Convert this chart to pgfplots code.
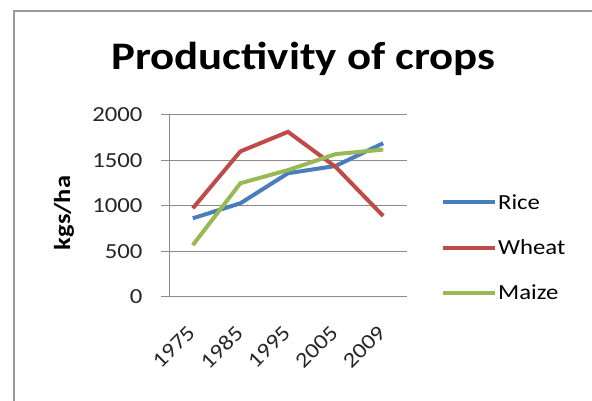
\documentclass[border=0pt]{standalone}
\usepackage{pgfplots}
\pgfplotsset{compat=1.18}
\usepackage{fontspec}
\setmainfont{Carlito}[FakeStretch=1.15]

\definecolor{riceblue}{HTML}{4A7EBB}
\definecolor{wheatred}{HTML}{BE4B48}
\definecolor{maizegreen}{HTML}{98B954}
\definecolor{gridgray}{HTML}{8C8C8C}

\begin{document}
\begin{tikzpicture}[x=1pt,y=1pt]
  \useasboundingbox (0,0) rectangle (592,401);
  % chart frame (only left and top edges show)
  \draw[gray!80, line width=2pt] (14,0) -- (14,390) -- (592,390);
  \node[anchor=base, font=\bfseries\fontsize{39}{44}\selectfont]
    at (303.5,331) {Productivity of crops};
  \node[rotate=90, font=\bfseries\fontsize{23}{26}\selectfont]
    at (64,188) {kgs/ha};

  \begin{axis}[
    at={(169pt,104pt)}, anchor=south west,
    scale only axis, width=238pt, height=182pt,
    xmin=-0.5, xmax=4.5, ymin=0, ymax=2000,
    axis x line*=bottom, axis y line*=left,
    axis line style={gridgray, line width=1pt},
    xtick={0,1,2,3,4},
    xticklabels={1975,1985,1995,2005,2009},
    xtick style={draw=none},
    minor xtick={-0.5,0.5,1.5,2.5,3.5,4.5},
    minor tick style={gridgray, line width=1pt},
    ytick={0,500,1000,1500,2000},
    ytick style={gridgray, line width=1pt},
    ymajorgrids, grid style={gridgray, line width=1pt},
    tick align=outside,
    major tick length=8pt, minor tick length=8pt,
    tick label style={font=\fontsize{21.5}{24}\selectfont, text=black!85},
    /pgf/number format/assume math mode=true,
    /pgf/number format/set thousands separator={},
    yticklabel style={xshift=-15pt},
    % shifts act in the rotated frame
    xticklabel style={rotate=45, anchor=north east, inner sep=1pt,
      xshift=-17pt, yshift=-8pt},
    legend style={at={(1.13,0.27)}, anchor=west, draw=none, fill=none,
      font=\fontsize{21.5}{24}\selectfont, row sep=27pt,
      nodes={inner sep=1pt}},
    legend cell align=left,
    legend image code/.code={\draw[#1, line width=4pt] (0pt,0pt) -- (52pt,0pt);},
    every axis plot/.append style={line width=4pt},
  ]
    \addplot[riceblue] coordinates {(0,865) (1,1030) (2,1360) (3,1440) (4,1690)};
    \addlegendentry{Rice}
    \addplot[wheatred] coordinates {(0,975) (1,1600) (2,1815) (3,1430) (4,890)};
    \addlegendentry{Wheat}
    \addplot[maizegreen] coordinates {(0,570) (1,1250) (2,1395) (3,1570) (4,1620)};
    \addlegendentry{Maize}
  \end{axis}
\end{tikzpicture}
\end{document}
